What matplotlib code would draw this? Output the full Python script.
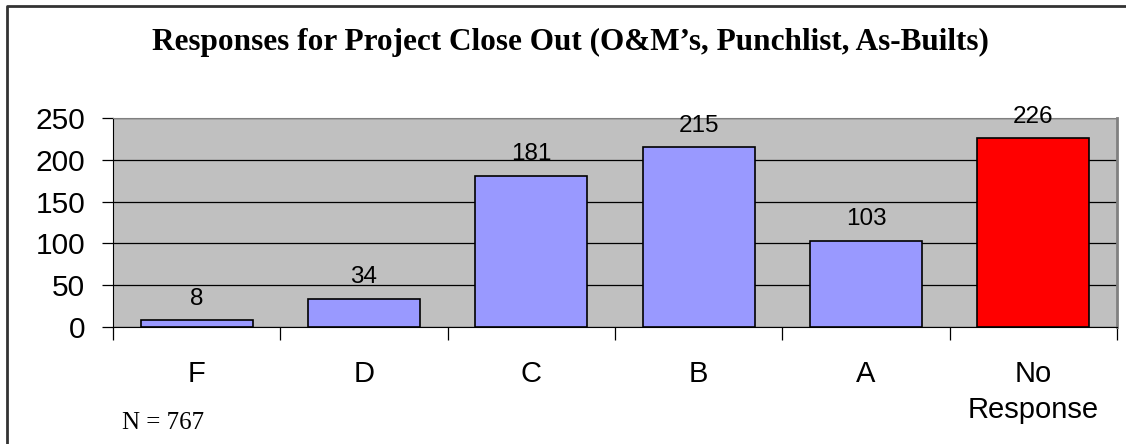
import matplotlib.pyplot as plt
from matplotlib.lines import Line2D

categories = ['F', 'D', 'C', 'B', 'A', 'No\nResponse']
responses = [8, 34, 181, 215, 103, 226]
bar_colors = ['#9999FF', '#9999FF', '#9999FF', '#9999FF', '#9999FF', '#FF0000']
yticks = [0, 50, 100, 150, 200, 250]

W, H = 1126, 444
fig = plt.figure(figsize=(W / 100, H / 100), dpi=100)

# outer chart border (only top and left edges are inside the picture)
fig.lines.append(Line2D([7 / W, 7 / W, 1], [0, (H - 6) / H, (H - 6) / H],
                        transform=fig.transFigure, color='#333333', linewidth=2))

ax = fig.add_axes([113 / W, (H - 327) / H, 1004 / W, 209 / H])
ax.set_facecolor('#C0C0C0')
x = list(range(len(categories)))
ax.bar(x, responses, width=0.67, color=bar_colors, edgecolor='black', linewidth=1.2, zorder=3)

for xi, v in zip(x, responses):
    ax.annotate(str(v), (xi, v), xytext=(0, 7.5), textcoords='offset points',
                ha='center', va='bottom', fontsize=17.5, family='Liberation Sans',
                annotation_clip=False, zorder=4)

ax.set_xlim(-0.5, len(categories) - 0.5)
ax.set_ylim(0, 250)
ax.set_yticks(yticks)
ax.yaxis.grid(True, color='black', linewidth=0.9, zorder=1)
ax.set_axisbelow(True)
ax.set_xticks([i - 0.5 for i in range(len(categories) + 1)], minor=True)
ax.set_xticks(x)
ax.set_xticklabels(categories, family='Liberation Sans', fontsize=21, linespacing=1.35)
ax.tick_params(axis='x', which='major', length=0, pad=24)
ax.tick_params(axis='x', which='minor', length=9, direction='out', width=0.9)
ax.tick_params(axis='y', length=8, width=0.9, pad=12)
for lab in ax.get_yticklabels():
    lab.set_family('Liberation Sans')
    lab.set_fontsize(21.5)

for s in ['top', 'right']:
    ax.spines[s].set_color('#808080')
ax.spines['right'].set_linewidth(2)
ax.spines['left'].set_color('black')
ax.spines['bottom'].set_color('black')

fig.text(570 / W, (H - 42) / H, 'Responses for Project Close Out (O&M\u2019s, Punchlist, As-Builts)',
         ha='center', va='center', fontsize=22.5, fontweight='bold', family='Liberation Serif')
fig.text(122 / W, (H - 423) / H, 'N = 767', ha='left', va='center', fontsize=18,
         family='Liberation Serif')

fig.savefig('out.png', dpi=100)
